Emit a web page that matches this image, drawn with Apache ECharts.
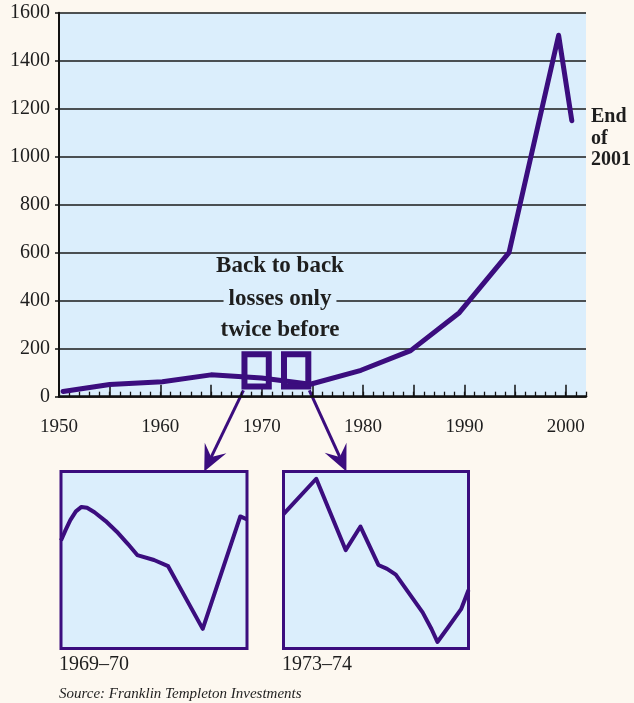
<!doctype html>
<html>
	<head>
		<meta charset="utf-8">
		<title></title>
		<script src="https://cdn.jsdelivr.net/npm/echarts@6/dist/echarts.min.js"></script>
		<style>
			html, body {
				margin: 0;
				padding: 0;
				background: #fdf8f0;
			}
			#main {
				width: 634px;
				height: 703px;
			}
		</style>
	</head>

	<body>
		<div id="main"></div>
	</body>

	<script type="text/javascript">
		//主图：年份 / 指数
		var years = [1950.4, 1955, 1960.2, 1965, 1970, 1974.8, 1979.8, 1984.7, 1989.5, 1994.4, 1999.3, 2000.6];
		var values = [22, 51, 62, 91, 78, 52, 110, 192, 350, 600, 1506, 1150];
		//x轴刻度
		var majorTicks = [1950, 1955, 1960, 1965, 1970, 1975, 1980, 1985, 1990, 1995, 2000];
		var yearTicks = [];
		for (var yr = 1950; yr <= 2002; yr++) yearTicks.push(yr);
		var xLabels = [1950, 1960, 1970, 1980, 1990, 2000];
		//两次连续下跌的区间（年份，指数范围）
		var boxYears = [[1968.3, 1970.7], [1972.2, 1974.6]];
		var boxRange = [42, 177];
		//小图 1969-70（横向百分比 / 纵向百分比）
		var inset1X = [0, 2.5, 5, 8, 11, 14, 18, 24, 30, 36, 41, 50, 57.6, 76.2, 96.4, 100];
		var inset1Y = [61, 67, 72.5, 77.5, 80, 79.5, 77, 72, 66, 59, 52.8, 50, 46.5, 11.1, 74.6, 73];
		//小图 1973-74
		var inset2X = [0, 17.7, 33.6, 41.6, 51.3, 56, 60.7, 75.2, 80, 83.2, 89, 96, 100];
		var inset2Y = [75.9, 95.9, 55.6, 68.9, 47.2, 45, 41.7, 20.4, 11, 3.7, 12, 22.2, 33];

		var purple = '#3b0d7e';
		var sky = '#dbeefc';
		var ink = '#1e1e1e';
		var serif = '"Liberation Serif", "DejaVu Serif", serif';

		var byId = function(id) {
			return document.getElementById(id);
		};

		var zip = function(xs, ys) {
			var out = [];
			for (var i = 0; i < xs.length; i++) out.push([xs[i], ys[i]]);
			return out;
		};

		var chart = echarts.init(byId('main'), null, { renderer: 'canvas' });

		var hiddenAxis = function(grid) {
			return {
				type: 'value', gridIndex: grid, min: 0, max: 100, show: false
			};
		};

		var plain = function(v) {
			return String(v);
		};

		chart.setOption({
			backgroundColor: '#fdf8f0',
			animation: false,
			grid: [{
				left: 59, top: 12.7, width: 527, height: 384,
				show: true, backgroundColor: sky, borderWidth: 0
			}, {
				left: 61, top: 471.5, width: 186, height: 177,
				show: true, backgroundColor: sky, borderColor: purple, borderWidth: 3
			}, {
				left: 283.5, top: 471.5, width: 185, height: 177,
				show: true, backgroundColor: sky, borderColor: purple, borderWidth: 3
			}],
			xAxis: [{
				type: 'value', gridIndex: 0, min: 1950, max: 2002, interval: 5,
				axisLine: { lineStyle: { color: '#111', width: 2.5 } },
				axisTick: {
					inside: true, length: 12, customValues: majorTicks,
					lineStyle: { color: '#111', width: 1.5 }
				},
				axisLabel: {
					customValues: xLabels, margin: 21, formatter: plain,
					fontFamily: serif, fontSize: 19, color: ink
				},
				splitLine: { show: false }
			}, {
				type: 'value', gridIndex: 0, min: 1950, max: 2002, position: 'bottom',
				axisLine: { show: false },
				axisTick: {
					inside: true, length: 5, customValues: yearTicks,
					lineStyle: { color: '#111', width: 1.3 }
				},
				axisLabel: { show: false },
				splitLine: { show: false }
			}, hiddenAxis(1), hiddenAxis(2)],
			yAxis: [{
				type: 'value', gridIndex: 0, min: 0, max: 1600, interval: 200,
				axisLine: { show: true, lineStyle: { color: '#111', width: 2 } },
				axisTick: { show: true, length: 4, lineStyle: { color: '#111', width: 1.5 } },
				axisLabel: { margin: 9, formatter: plain, fontFamily: serif, fontSize: 20, color: ink },
				splitLine: { show: true, lineStyle: { color: '#1a1a1a', width: 1.5 } }
			}, hiddenAxis(1), hiddenAxis(2)],
			series: [{
				type: 'line', xAxisIndex: 0, yAxisIndex: 0,
				data: zip(years, values),
				symbol: 'none',
				z: 2,
				lineStyle: { color: purple, width: 5, join: 'round', cap: 'round' },
				markArea: {
					silent: true,
					z: 5,
					label: { show: false },
					itemStyle: { color: 'rgba(0,0,0,0)', borderColor: purple, borderWidth: 6 },
					emphasis: { disabled: true },
					data: boxYears.map(function(b) {
						return [{ coord: [b[0], boxRange[1]] }, { coord: [b[1], boxRange[0]] }];
					})
				}
			}, {
				type: 'line', xAxisIndex: 2, yAxisIndex: 1,
				data: zip(inset1X, inset1Y),
				symbol: 'none', clip: true,
				lineStyle: { color: purple, width: 4, join: 'round' }
			}, {
				type: 'line', xAxisIndex: 3, yAxisIndex: 2,
				data: zip(inset2X, inset2Y),
				symbol: 'none', clip: true,
				lineStyle: { color: purple, width: 4, join: 'round' }
			}]
		});

		/**
		 * 箭头：从主图方框指向小图
		 */
		function arrow(from, to) {
			var dx = to[0] - from[0], dy = to[1] - from[1];
			var len = Math.sqrt(dx * dx + dy * dy);
			var ux = dx / len, uy = dy / len;
			var nx = -uy, ny = ux;
			var L = 26, N = 16, W = 12;
			var bx = to[0] - ux * L, by = to[1] - uy * L;
			return [{
				type: 'line',
				shape: { x1: from[0], y1: from[1], x2: to[0] - ux * N, y2: to[1] - uy * N },
				style: { stroke: purple, lineWidth: 3 }
			}, {
				type: 'polygon',
				shape: {
					points: [to, [bx + nx * W, by + ny * W], [to[0] - ux * N, to[1] - uy * N], [bx - nx * W, by - ny * W]]
				},
				style: { fill: purple }
			}];
		}

		var main = { xAxisIndex: 0, yAxisIndex: 0 };
		var a1 = arrow(chart.convertToPixel(main, [1968.2, 26]), chart.convertToPixel({ xAxisIndex: 2, yAxisIndex: 1 }, [77, 100]));
		var a2 = arrow(chart.convertToPixel(main, [1974.7, 26]), chart.convertToPixel({ xAxisIndex: 3, yAxisIndex: 2 }, [34, 100]));

		var boldText = function(x, y, text, extra) {
			var st = {
				text: text, font: 'bold 23px ' + serif, fill: ink,
				align: 'center', verticalAlign: 'middle'
			};
			for (var k in extra) st[k] = extra[k];
			return { type: 'text', x: x, y: y, z: 10, style: st };
		};

		var endFont = 'bold 20px ' + serif;
		var graphics = a1.concat(a2).concat([
			boldText(280, 266.5, 'Back to back'),
			boldText(280, 299.5, 'losses only', { backgroundColor: sky, padding: [2, 5] }),
			boldText(280, 330, 'twice before'),
			{ type: 'text', x: 591, y: 117, style: { text: 'End', font: endFont, fill: ink, verticalAlign: 'middle' } },
			{ type: 'text', x: 591, y: 138.5, style: { text: 'of', font: endFont, fill: ink, verticalAlign: 'middle' } },
			{ type: 'text', x: 591, y: 160, style: { text: '2001', font: endFont, fill: ink, verticalAlign: 'middle' } },
			{ type: 'text', x: 59, y: 665, style: { text: '1969\u201370', font: '20px ' + serif, fill: ink, verticalAlign: 'middle' } },
			{ type: 'text', x: 282, y: 665, style: { text: '1973\u201374', font: '20px ' + serif, fill: ink, verticalAlign: 'middle' } },
			{ type: 'text', x: 59, y: 694, style: { text: 'Source: Franklin Templeton Investments', font: 'italic 15px ' + serif, fill: ink, verticalAlign: 'middle' } }
		]);

		chart.setOption({ graphic: graphics });
	</script>

</html>
